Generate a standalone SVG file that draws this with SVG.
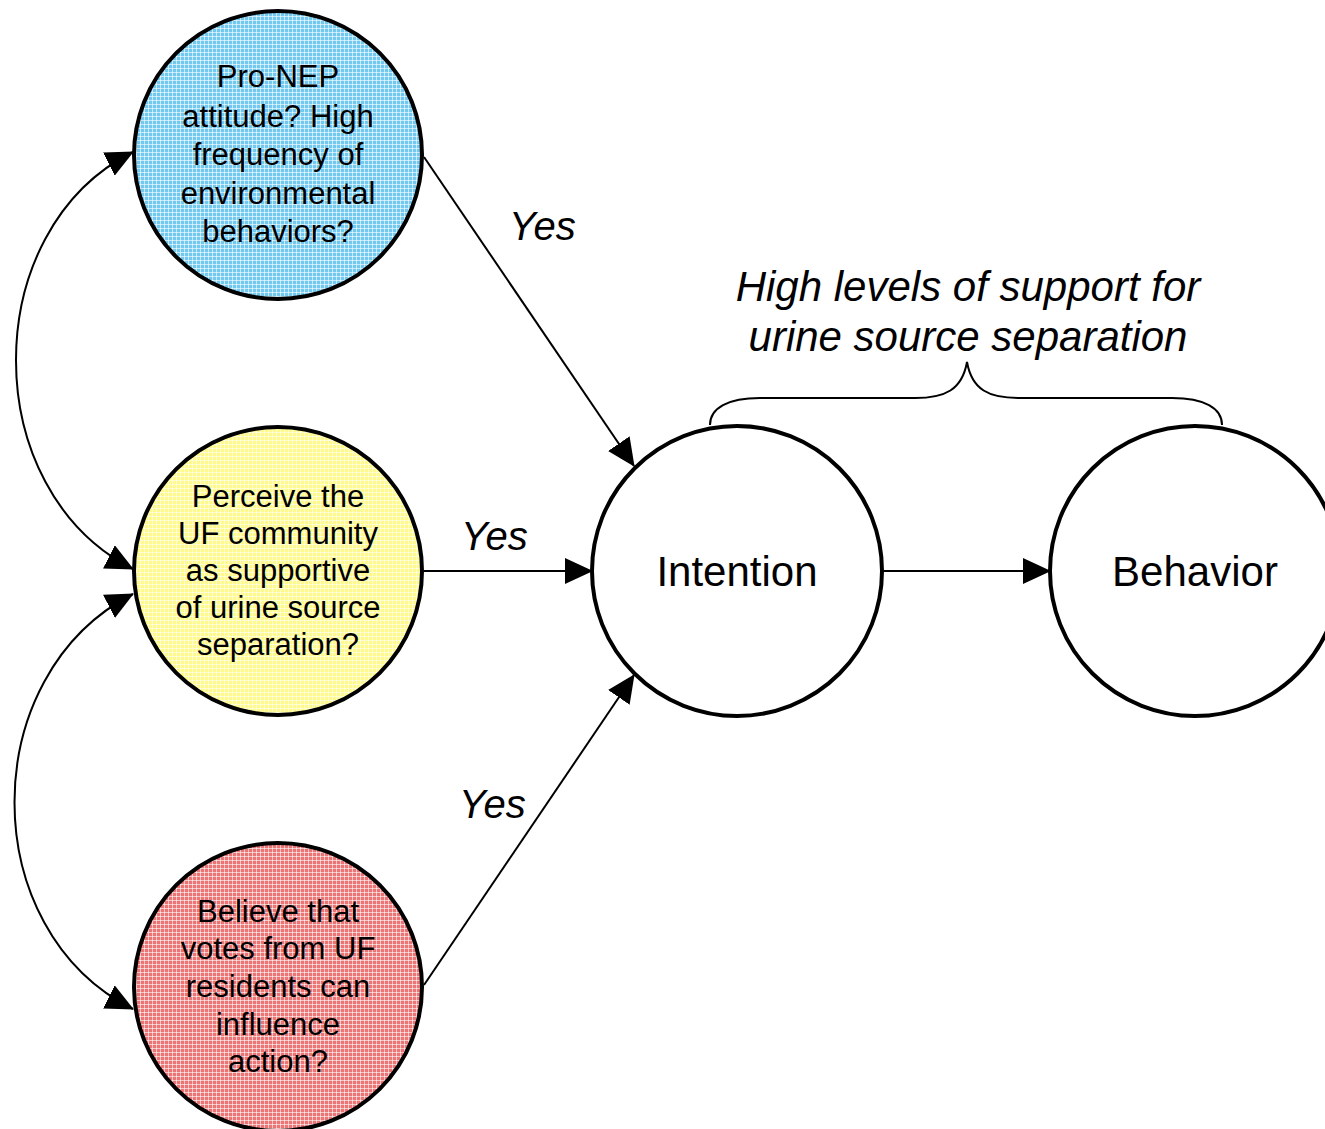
<svg xmlns="http://www.w3.org/2000/svg" width="1325" height="1129" viewBox="0 0 1325 1129">
  <style>
    .node { stroke: #000; stroke-width: 4; }
    .txt { font-family: "Liberation Sans", Arial, sans-serif; fill: #000; text-anchor: middle; }
    .small { font-size: 31px; }
    .big { font-size: 42px; }
    .lbl { font-family: "Liberation Sans", Arial, sans-serif; font-style: italic; font-size: 40px; fill: #000; }
    .head { font-family: "Liberation Sans", Arial, sans-serif; font-style: italic; font-size: 42px; fill: #000; text-anchor: middle; }
    .conn { fill: none; stroke: #000; stroke-width: 2; }
  </style>
  <defs>
    <marker id="arr" markerUnits="userSpaceOnUse" markerWidth="28" markerHeight="26" viewBox="0 0 28 26" refX="27" refY="13" orient="auto-start-reverse">
      <path d="M0,0 L28,13 L0,26 z" fill="#000"/>
    </marker>
    <pattern id="pBlue" width="4" height="4" patternUnits="userSpaceOnUse">
      <rect width="4" height="4" fill="#72c9ef"/>
      <rect width="4" height="1" fill="#ffffff" fill-opacity="0.6"/>
      <rect width="1" height="4" fill="#ffffff" fill-opacity="0.6"/>
    </pattern>
    <pattern id="pYellow" width="4" height="4" patternUnits="userSpaceOnUse">
      <rect width="4" height="4" fill="#fffa8a"/>
      <rect width="4" height="1" fill="#ffffff" fill-opacity="0.6"/>
      <rect width="1" height="4" fill="#ffffff" fill-opacity="0.6"/>
    </pattern>
    <pattern id="pRed" width="4" height="4" patternUnits="userSpaceOnUse">
      <rect width="4" height="4" fill="#ec7474"/>
      <rect width="4" height="1" fill="#ffffff" fill-opacity="0.6"/>
      <rect width="1" height="4" fill="#ffffff" fill-opacity="0.6"/>
    </pattern>
  </defs>
  <rect width="1325" height="1129" fill="#fff"/>

  <g id="connectors">
    <path class="conn" d="M424,157 L634,466" marker-end="url(#arr)"/>
    <path class="conn" d="M424,571 L592,571" marker-end="url(#arr)"/>
    <path class="conn" d="M424,985 L634,675" marker-end="url(#arr)"/>
    <path class="conn" d="M883,571 L1050,571" marker-end="url(#arr)"/>
    <path class="conn" d="M133,152 C -23,230 -23,490 133,569" marker-start="url(#arr)" marker-end="url(#arr)"/>
    <path class="conn" d="M133,594 C -25,675 -25,930 133,1009" marker-start="url(#arr)" marker-end="url(#arr)"/>
    <path class="conn" d="M710,425 C 710,408 728,398 760,398 L 915,398 C 945,398 962,390 967,362 C 972,390 989,398 1019,398 L 1172,398 C 1204,398 1222,408 1222,425"/>
  </g>

  <g id="label-yes-1"><text class="lbl" x="509" y="240">Yes</text></g>
  <g id="label-yes-2"><text class="lbl" x="461" y="550">Yes</text></g>
  <g id="label-yes-3"><text class="lbl" x="459" y="818">Yes</text></g>

  <g id="heading">
    <text class="head" x="968" y="301">High levels of support for</text>
    <text class="head" x="968" y="351">urine source separation</text>
  </g>

  <g id="node-nep">
    <circle class="node" cx="278" cy="155" r="144" fill="url(#pBlue)"/>
    <text class="txt small" x="278" y="87">Pro-NEP</text>
    <text class="txt small" x="278" y="127">attitude? High</text>
    <text class="txt small" x="278" y="165">frequency of</text>
    <text class="txt small" x="278" y="204">environmental</text>
    <text class="txt small" x="278" y="242">behaviors?</text>
  </g>

  <g id="node-community">
    <circle class="node" cx="278" cy="571" r="144" fill="url(#pYellow)"/>
    <text class="txt small" x="278" y="507">Perceive the</text>
    <text class="txt small" x="278" y="544">UF community</text>
    <text class="txt small" x="278" y="581">as supportive</text>
    <text class="txt small" x="278" y="618">of urine source</text>
    <text class="txt small" x="278" y="655">separation?</text>
  </g>

  <g id="node-votes">
    <circle class="node" cx="278" cy="987" r="144" fill="url(#pRed)"/>
    <text class="txt small" x="278" y="922">Believe that</text>
    <text class="txt small" x="278" y="959">votes from UF</text>
    <text class="txt small" x="278" y="997">residents can</text>
    <text class="txt small" x="278" y="1035">influence</text>
    <text class="txt small" x="278" y="1072">action?</text>
  </g>

  <g id="node-intention">
    <circle class="node" cx="737" cy="571" r="145" fill="#fff"/>
    <text class="txt big" x="737" y="586">Intention</text>
  </g>

  <g id="node-behavior">
    <circle class="node" cx="1195" cy="571" r="145" fill="#fff"/>
    <text class="txt big" x="1195" y="586">Behavior</text>
  </g>
</svg>
